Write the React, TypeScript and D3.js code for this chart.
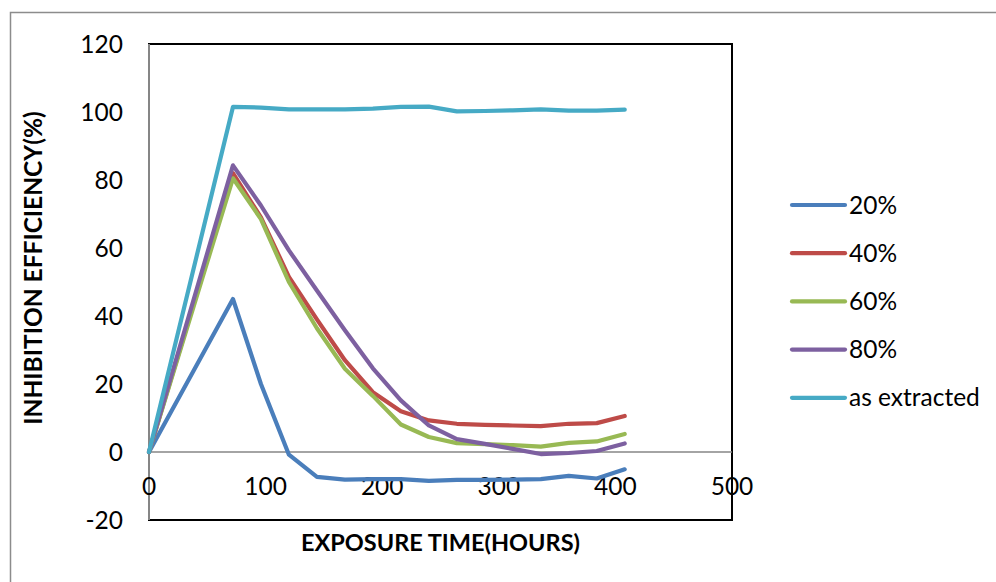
import React, { useEffect, useRef } from "react";
import * as d3 from "d3";

const hours = [0, 72, 96, 120, 144, 168, 192, 216, 240, 264, 288, 312, 336, 360, 384, 408];
const s20 = [0, 45, 20, -0.8, -7.3, -8.1, -8, -8, -8.5, -8.2, -8.2, -8.1, -8, -7, -7.8, -5.1];
const s40 = [0, 82, 69, 51.5, 39, 27, 17.6, 12, 9.3, 8.3, 8, 7.8, 7.6, 8.3, 8.5, 10.6];
const s60 = [0, 80.5, 68.5, 50, 36.4, 24.5, 16.5, 8.1, 4.4, 2.6, 2.3, 2, 1.6, 2.7, 3.1, 5.3];
const s80 = [0, 84.3, 72.5, 59.3, 47.5, 35.8, 24.6, 15.2, 7.8, 3.8, 2.4, 0.9, -0.6, -0.3, 0.3, 2.5];
const sExt = [0, 101.5, 101.3, 100.8, 100.8, 100.8, 101, 101.5, 101.6, 100.2, 100.3, 100.5, 100.8, 100.4, 100.4, 100.7];
const seriesNames = ["20%", "40%", "60%", "80%", "as extracted"];
const seriesValues = [s20, s40, s60, s80, sExt];
const colors = ["#4A7EBB", "#BE4B48", "#98B954", "#7D60A0", "#46AAC5"];
const xTicks = [0, 100, 200, 300, 400, 500];
const yTicks = [-20, 0, 20, 40, 60, 80, 100, 120];

const W = 996;
const H = 582;
const FONT = "Lato, 'Open Sans', sans-serif";

export default function App() {
  const ref = useRef<SVGSVGElement | null>(null);
  useEffect(() => {
    const svg = d3.select(ref.current);
    svg.selectAll("*").remove();
    const left = 149, right = 732, top = 44, bottom = 520;
    const x = d3.scaleLinear().domain([0, 500]).range([left, right]);
    const y = d3.scaleLinear().domain([-20, 120]).range([bottom, top]);

    svg.append("rect").attr("width", W).attr("height", H).attr("fill", "#fff");
    // outer frame
    svg.append("rect").attr("x", 10.5).attr("y", 12.5).attr("width", W).attr("height", H)
      .attr("fill", "none").attr("stroke", "#8c8c8c").attr("stroke-width", 1.5);

    // plot border
    svg.append("rect").attr("x", left).attr("y", top).attr("width", right - left).attr("height", bottom - top)
      .attr("fill", "none").attr("stroke", "#000").attr("stroke-width", 2);
    // y axis line (gray)
    svg.append("line").attr("x1", left).attr("x2", left).attr("y1", top).attr("y2", bottom)
      .attr("stroke", "#868686").attr("stroke-width", 2);
    // x axis at zero
    svg.append("line").attr("x1", left).attr("x2", right).attr("y1", y(0)).attr("y2", y(0))
      .attr("stroke", "#868686").attr("stroke-width", 1.5);

    // y tick labels
    svg.append("g").selectAll("text").data(yTicks).join("text")
      .attr("x", 123).attr("y", (d) => y(d)).attr("dy", "0.35em")
      .attr("text-anchor", "end").attr("font-family", FONT).attr("font-size", 24.5).attr("fill", "#000")
      .text((d) => String(d));
    // x tick labels
    svg.append("g").selectAll("text").data(xTicks).join("text")
      .attr("x", (d) => x(d)).attr("y", 486).attr("dy", "0.35em")
      .attr("text-anchor", "middle").attr("font-family", FONT).attr("font-size", 24.5).attr("fill", "#000")
      .text((d) => String(d));

    // lines
    const line = d3.line<number>().x((_, i) => x(hours[i])).y((d) => y(d));
    seriesValues.forEach((vals, k) => {
      svg.append("path").attr("d", line(vals) as string).attr("fill", "none")
        .attr("stroke", colors[k]).attr("stroke-width", 4.2)
        .attr("stroke-linejoin", "round").attr("stroke-linecap", "round");
    });

    // axis titles
    svg.append("text").attr("x", (left + right) / 2).attr("y", 543).attr("dy", "0.35em")
      .attr("text-anchor", "middle").attr("font-family", FONT).attr("font-weight", "bold")
      .attr("font-size", 23.5).text("EXPOSURE TIME(HOURS)");
    svg.append("text").attr("transform", `translate(33,268) rotate(-90)`).attr("dy", "0.35em")
      .attr("text-anchor", "middle").attr("font-family", FONT).attr("font-weight", "bold")
      .attr("font-size", 24.5).text("INHIBITION EFFICIENCY(%)");

    // legend
    const lg = svg.append("g");
    seriesNames.forEach((name, k) => {
      const ly = 205 + k * 48.2;
      lg.append("line").attr("x1", 792).attr("x2", 845).attr("y1", ly).attr("y2", ly)
        .attr("stroke", colors[k]).attr("stroke-width", 4.2).attr("stroke-linecap", "round");
      lg.append("text").attr("x", 849).attr("y", ly).attr("dy", "0.35em")
        .attr("font-family", FONT).attr("font-size", 24.5).attr("fill", "#000").text(name);
    });
  }, []);
  return (
    <svg ref={ref} width={W} height={H} style={{ position: "absolute", left: 0, top: 0 }} />
  );
}
